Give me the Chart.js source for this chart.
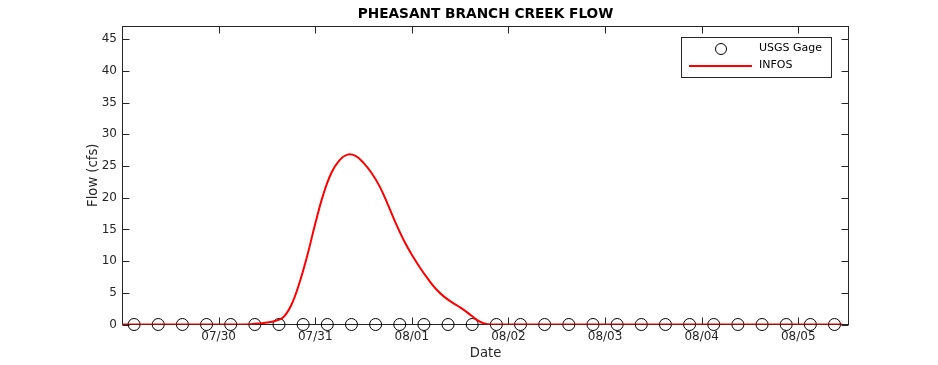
<!DOCTYPE html>
<html>
<head>
<meta charset="utf-8">
<script src="https://cdn.jsdelivr.net/npm/chart.js@4/dist/chart.umd.min.js"></script>
<style>
  html, body { margin: 0; padding: 0; background: #ffffff; }
  #wrap { width: 938px; height: 365px; }
</style>
</head>
<body>
<div id="wrap"><canvas id="c" width="938" height="365"></canvas></div>
<script>
// ---- data (hours since 07/29 00:00) ----
const chartTitle = 'PHEASANT BRANCH CREEK FLOW';
const xTitle = 'Date';
const yTitle = 'Flow (cfs)';
const tickHours = [24, 48, 72, 96, 120, 144, 168];
const tickLabels = ['07/30', '07/31', '08/01', '08/02', '08/03', '08/04', '08/05'];
const yTicks = [0, 5, 10, 15, 20, 25, 30, 35, 40, 45];

const gageLabel = 'USGS Gage';
const gageHours = [3, 9, 15, 21, 27, 33, 39, 45, 51, 57, 63, 69, 75, 81, 87, 93, 99, 105, 111, 117, 123, 129, 135, 141, 147, 153, 159, 165, 171, 177];
const gageFlow  = [0, 0, 0, 0, 0, 0, 0, 0, 0, 0, 0, 0, 0, 0, 0, 0, 0, 0, 0, 0, 0, 0, 0, 0, 0, 0, 0, 0, 0, 0];

const infosLabel = 'INFOS';
const infosHours = [0, 30, 32, 34, 36, 38, 40, 42, 44, 46, 48, 50, 52, 54, 56, 58, 60, 62, 64, 66, 68, 70, 72, 74, 76, 78, 80, 82, 84, 86, 88, 90, 92, 179];
const infosFlow  = [0, 0, 0.05, 0.15, 0.3, 0.55, 1.1, 3.0, 6.4, 10.8, 15.9, 20.5, 23.9, 25.9, 26.8, 26.6, 25.5, 23.9, 21.8, 19.0, 16.0, 13.3, 11.0, 9.0, 7.2, 5.6, 4.4, 3.5, 2.7, 1.8, 0.8, 0.15, 0, 0];

// ---- build ----
const gagePts = gageHours.map((h, i) => ({ x: h, y: gageFlow[i] }));
const infosPts = infosHours.map((h, i) => ({ x: h, y: infosFlow[i] }));

const AX = '#262626';
const FONT = 'DejaVu Sans';

const boxTicks = {
  id: 'boxTicks',
  beforeDatasetsDraw(chart) {
    const { ctx, chartArea: a, scales } = chart;
    ctx.save();
    ctx.strokeStyle = AX;
    ctx.lineWidth = 1;
    const L = Math.round(a.left) + 0.5, R = Math.round(a.right) - 0.5;
    const T = Math.round(a.top) + 0.5, B = Math.round(a.bottom) - 0.5;
    ctx.strokeRect(L, T, R - L, B - T);
    const tl = 7;
    ctx.beginPath();
    scales.x.ticks.forEach(t => {
      const px = Math.round(scales.x.getPixelForValue(t.value)) + 0.5;
      ctx.moveTo(px, B); ctx.lineTo(px, B - tl);
      ctx.moveTo(px, T); ctx.lineTo(px, T + tl);
    });
    scales.y.ticks.forEach(t => {
      const py = Math.round(scales.y.getPixelForValue(t.value)) + 0.5;
      ctx.moveTo(L, py); ctx.lineTo(L + tl, py);
      ctx.moveTo(R, py); ctx.lineTo(R - tl, py);
    });
    ctx.stroke();
    ctx.restore();
  }
};

const boxLegend = {
  id: 'boxLegend',
  afterDraw(chart) {
    const { ctx } = chart;
    const ds = chart.data.datasets;
    ctx.save();
    ctx.fillStyle = '#ffffff';
    ctx.fillRect(681.5, 37.5, 150, 40);
    ctx.strokeStyle = AX;
    ctx.lineWidth = 1;
    ctx.strokeRect(681.5, 37.5, 150, 40);
    ctx.beginPath();
    ctx.arc(721, 49, 5.5, 0, Math.PI * 2);
    ctx.strokeStyle = '#000000';
    ctx.stroke();
    ctx.beginPath();
    ctx.moveTo(689, 66); ctx.lineTo(752, 66);
    ctx.strokeStyle = '#ff0000';
    ctx.lineWidth = 2;
    ctx.stroke();
    ctx.fillStyle = '#000000';
    ctx.font = '11px "' + FONT + '"';
    ctx.textBaseline = 'middle';
    ctx.textAlign = 'left';
    ctx.fillText(ds[0].label, 759, 48.5);
    ctx.fillText(ds[1].label, 759, 65.5);
    ctx.restore();
  }
};

new Chart(document.getElementById('c'), {
  type: 'line',
  data: {
    datasets: [
      {
        label: gageLabel,
        data: gagePts,
        showLine: false,
        pointStyle: 'circle',
        pointRadius: 6,
        pointBorderWidth: 1,
        pointBorderColor: '#000000',
        pointBackgroundColor: 'rgba(0,0,0,0)',
        clip: false,
        order: 1
      },
      {
        label: infosLabel,
        data: infosPts,
        borderColor: '#ff0000',
        borderWidth: 2,
        pointRadius: 0,
        tension: 0.4,
        fill: false,
        order: 0
      }
    ]
  },
  plugins: [boxTicks, boxLegend],
  options: {
    responsive: false,
    animation: false,
    events: [],
    layout: { padding: { left: 0, right: 89, top: 0, bottom: 0 } },
    plugins: {
      legend: { display: false },
      tooltip: { enabled: false },
      title: {
        display: true,
        text: chartTitle,
        fullSize: false,
        color: '#000000',
        font: { family: FONT, size: 13.7, weight: 'bold', lineHeight: 1.2 },
        padding: { top: 6.5, bottom: 3.06 }
      }
    },
    scales: {
      x: {
        type: 'linear',
        min: 0,
        max: 180.6,
        grid: { display: false, drawTicks: false },
        border: { display: false },
        afterBuildTicks(scale) { scale.ticks = tickHours.map(v => ({ value: v })); },
        afterFit(scale) { scale.height = 40.5; },
        ticks: {
          includeBounds: false,
          autoSkip: false,
          maxRotation: 0,
          padding: 5,
          color: AX,
          font: { family: FONT, size: 12 },
          callback: (v) => { const i = tickHours.indexOf(v); return i >= 0 ? tickLabels[i] : ''; }
        },
        title: {
          display: true,
          text: xTitle,
          color: AX,
          font: { family: FONT, size: 13.2, lineHeight: 1.2 },
          padding: { top: 0, bottom: 3.5 }
        }
      },
      y: {
        type: 'linear',
        min: 0,
        max: 47.1,
        grid: { display: false, drawTicks: false },
        border: { display: false },
        afterBuildTicks(scale) { scale.ticks = yTicks.map(v => ({ value: v })); },
        afterFit(scale) { scale.width = 122; },
        ticks: {
          includeBounds: false,
          padding: 5,
          color: AX,
          font: { family: FONT, size: 12 }
        },
        title: {
          display: true,
          text: yTitle,
          color: AX,
          font: { family: FONT, size: 13.2, lineHeight: 1.2 },
          padding: { top: 86, bottom: 0 }
        }
      }
    }
  }
});
</script>
</body>
</html>
